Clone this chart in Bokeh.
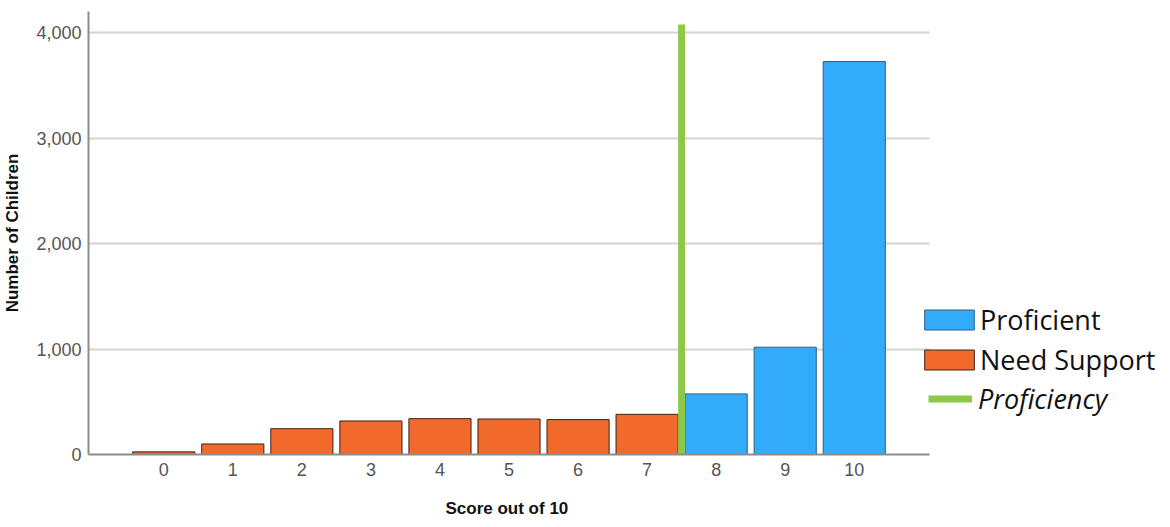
from bokeh.plotting import figure
from bokeh.models import (Range1d, FixedTicker, NumeralTickFormatter, Legend, LegendItem,
                          ColumnDataSource, BoxAnnotation, Title)
from bokeh.embed import file_html
from bokeh.resources import INLINE

# ---- data ----
support_scores = [0, 1, 2, 3, 4, 5, 6, 7]
support_counts = [25, 100, 245, 318, 340, 337, 331, 381]
proficient_scores = [8, 9, 10]
proficient_counts = [575, 1018, 3728]
x_ticks = [0, 1, 2, 3, 4, 5, 6, 7, 8, 9, 10]
y_ticks = [0, 1000, 2000, 3000, 4000]
proficiency_threshold = [7.5]
proficiency_line_bottom = [0]
proficiency_line_top = [4080]

ORANGE = "#F26A2B"
BLUE = "#33ABFB"
GREEN = "#8DC945"

X_START, X_AXIS_END, X_FRAME_END = -1.09, 11.09, 14.464

p = figure(frame_width=1074, frame_height=443, output_backend="svg", toolbar_location=None,
           x_range=Range1d(X_START, X_FRAME_END), y_range=Range1d(0, 4203),
           min_border_left=80, min_border_right=0, min_border_top=11, min_border_bottom=64)
p.outline_line_color = None
p.background_fill_color = "white"
p.border_fill_color = "white"

src_s = ColumnDataSource(dict(x=support_scores, top=support_counts))
src_p = ColumnDataSource(dict(x=proficient_scores, top=proficient_counts))
r_s = p.vbar(x="x", top="top", width=0.9, bottom=0, source=src_s,
             fill_color=ORANGE, line_color="#3a2418", line_width=1)
r_p = p.vbar(x="x", top="top", width=0.9, bottom=0, source=src_p,
             fill_color=BLUE, line_color="#2f5d80", line_width=1)
r_g = p.segment(x0=proficiency_threshold, y0=proficiency_line_bottom,
                x1=proficiency_threshold, y1=proficiency_line_top,
                line_color=GREEN, line_width=7)

# axes
p.xaxis.ticker = FixedTicker(ticks=x_ticks)
p.yaxis.ticker = FixedTicker(ticks=y_ticks)
p.yaxis.formatter = NumeralTickFormatter(format="0,0")
p.xaxis.bounds = (X_START, X_AXIS_END)
for ax in (p.xaxis[0], p.yaxis[0]):
    ax.major_tick_line_color = None
    ax.minor_tick_line_color = None
    ax.axis_line_color = "#8c8c8c"
    ax.axis_line_width = 2
    ax.major_label_text_font = "Liberation Sans"
    ax.major_label_text_font_size = "18px"
    ax.major_label_text_color = "#555555"
    ax.axis_label_text_font = "Liberation Sans"
    ax.axis_label_text_font_size = "17px"
    ax.axis_label_text_font_style = "bold"
    ax.axis_label_text_color = "#111111"
p.yaxis.axis_label = "Number of Children"
p.xaxis.major_label_standoff = 2
p.yaxis.major_label_standoff = 1
p.yaxis.axis_label_standoff = 11

# x axis title, centred under the axis extent rather than the whole frame
x_title = Title(text="Score out of 10", align="left", offset=357, standoff=37,
                text_font="Liberation Sans", text_font_size="17px",
                text_font_style="bold", text_color="#111111")
p.add_layout(x_title, "below")

p.xgrid.grid_line_color = None
p.ygrid.grid_line_color = "#d4d4d4"
p.ygrid.grid_line_width = 2

# blank out the gridlines in the legend area (right of the plotted axis extent)
p.add_layout(BoxAnnotation(left=X_AXIS_END, fill_color="white", fill_alpha=1.0,
                           line_alpha=0, level="underlay"))

def style_legend(lg):
    lg.padding = 0
    lg.margin = 0
    lg.border_line_color = None
    lg.background_fill_alpha = 0
    lg.label_text_font = "Open Sans"
    lg.label_text_font_size = "27px"
    lg.label_text_color = "#111111"
    lg.label_height = 36
    lg.spacing = 3

legend = Legend(items=[
    LegendItem(label="Proficient", renderers=[r_p]),
    LegendItem(label="Need Support", renderers=[r_s]),
], location=(830, 76))
style_legend(legend)
legend.glyph_width = 62
legend.glyph_height = 25
legend.label_standoff = 0
p.add_layout(legend)

legend2 = Legend(items=[
    LegendItem(label="Proficiency", renderers=[r_g]),
], location=(840, 37))
style_legend(legend2)
legend2.label_text_font_style = "italic"
legend2.glyph_width = 44
legend2.glyph_height = 25
legend2.label_standoff = 6
p.add_layout(legend2)

open("out.html", "w").write(file_html(p, INLINE))
